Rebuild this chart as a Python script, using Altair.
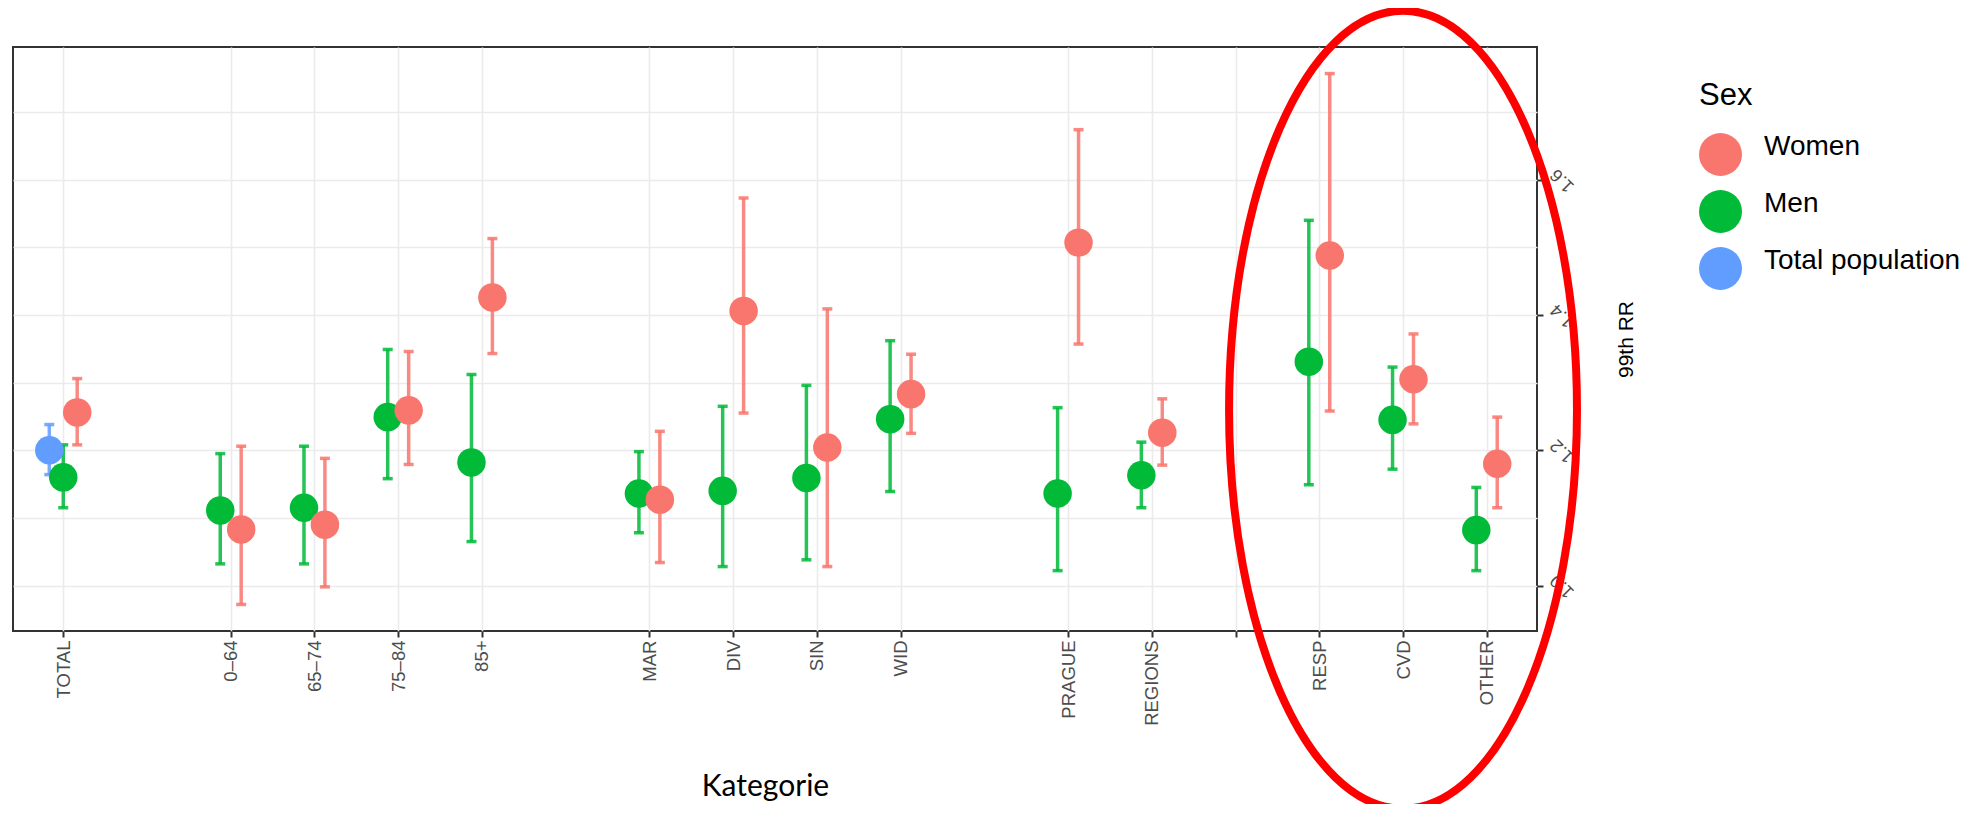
import altair as alt
import pandas as pd

# ---------------- data ----------------
# x slots of the discrete axis (None = empty gap without tick, "" = tick without label)
x_slots = ["TOTAL", None, "0–64", "65–74", "75–84", "85+", None, "MAR", "DIV", "SIN",
           "WID", None, "PRAGUE", "REGIONS", "", "RESP", "CVD", "OTHER"]

categories = ["TOTAL", "0–64", "65–74", "75–84", "85+", "MAR", "DIV", "SIN", "WID",
              "PRAGUE", "REGIONS", "RESP", "CVD", "OTHER"]

women_rr = [1.256, 1.083, 1.090, 1.259, 1.426, 1.127, 1.406, 1.204, 1.283, 1.507, 1.226, 1.488, 1.305, 1.180]
women_lo = [1.208, 0.972, 0.998, 1.179, 1.343, 1.034, 1.255, 1.028, 1.225, 1.357, 1.178, 1.258, 1.239, 1.115]
women_hi = [1.306, 1.206, 1.188, 1.346, 1.513, 1.228, 1.573, 1.409, 1.342, 1.674, 1.276, 1.757, 1.372, 1.249]

men_rr = [1.160, 1.111, 1.115, 1.249, 1.182, 1.136, 1.140, 1.159, 1.246, 1.136, 1.163, 1.331, 1.245, 1.082]
men_lo = [1.115, 1.032, 1.032, 1.158, 1.065, 1.078, 1.028, 1.038, 1.139, 1.022, 1.115, 1.149, 1.172, 1.022]
men_hi = [1.208, 1.195, 1.206, 1.349, 1.312, 1.198, 1.265, 1.296, 1.362, 1.263, 1.212, 1.540, 1.323, 1.145]

total_categories = ["TOTAL"]
total_rr = [1.200]
total_lo = [1.164]
total_hi = [1.238]

y_ticks = [1.0, 1.1, 1.2, 1.3, 1.4, 1.5, 1.6, 1.7]

sex_domain = ["Women", "Men", "Total population"]
sex_colors = ["#F8766D", "#00BA38", "#619CFF"]

# annotation ellipse (drawn over the last three categories)
ellipse_category = ["CVD"]
ellipse_value = [1.26]

# ---------------- build table ----------------
DODGE = 0.5
rows = []
for i, cat in enumerate(categories):
    groups = []
    if cat in total_categories:
        j = total_categories.index(cat)
        groups.append(("Total population", total_rr[j], total_lo[j], total_hi[j]))
    groups.append(("Men", men_rr[i], men_lo[i], men_hi[i]))
    groups.append(("Women", women_rr[i], women_lo[i], women_hi[i]))
    n = len(groups)
    for k, (sex, rr, lo, hi) in enumerate(groups):
        off = DODGE * (k - (n - 1) / 2) / n
        rows.append({"Kategorie": cat, "Sex": sex, "pos": x_slots.index(cat) + off,
                     "rr": rr, "lo": lo, "hi": hi})
df = pd.DataFrame(rows)

ell_df = pd.DataFrame({"pos": [x_slots.index(c) for c in ellipse_category],
                       "rr": ellipse_value})

lo_all = df["lo"].min()
hi_all = df["hi"].max()
pad = 0.05 * (hi_all - lo_all)
y_domain = [lo_all - pad, hi_all + pad]
x_domain = [-0.6, len(x_slots) - 1 + 0.6]

# ---------------- axes ----------------
label_js = "[" + ",".join("'" + (s or "") + "'" for s in x_slots) + "][datum.value]"
tick_values = [i for i, s in enumerate(x_slots) if s is not None]

FONT = "Liberation Sans"

x_axis = alt.Axis(
    values=tick_values, labelExpr=label_js, title="Kategorie",
    orient="bottom", domain=False, grid=True, gridColor="#EBEBEB", gridWidth=1.6,
    ticks=True, tickColor="#333333", tickSize=6, tickWidth=2,
    labelAngle=-90, labelAlign="right", labelBaseline="middle", labelPadding=3,
    labelFont=FONT, labelFontSize=18.5, labelColor="#4D4D4D",
    labelFlush=False, labelOverlap=False,
    titleFont="Lato", titleFontSize=30, titleFontWeight="normal", titleColor="#000000",
    titleX=752, titleY=164, titleAlign="center", titleBaseline="alphabetic",
)

y_axis = alt.Axis(
    values=y_ticks, orient="right", title="99th RR",
    labelExpr="round(datum.value*10) % 2 == 0 ? format(datum.value, '.1f') : ''",
    domain=False, grid=True, gridColor="#EBEBEB", gridWidth=1.6,
    ticks=True, tickColor="#333333", tickSize=6, tickWidth=2,
    tickOpacity={"condition": {"test": "round(datum.value*10) % 2 == 0", "value": 1}, "value": 0},
    labelAngle=225, labelAlign="center", labelBaseline="middle", labelPadding=19,
    labelFont=FONT, labelFontSize=18, labelColor="#4D4D4D",
    labelFlush=False, labelOverlap=False,
    titleFont=FONT, titleFontSize=21, titleFontWeight="normal", titleColor="#000000",
    titleAngle=270, titleX=89, titleY=292, titleAlign="center", titleBaseline="middle",
)

def X():
    return alt.X("pos:Q", axis=x_axis, scale=alt.Scale(domain=x_domain, nice=False, zero=False))

def Y(field):
    return alt.Y(f"{field}:Q", axis=y_axis, scale=alt.Scale(domain=y_domain, nice=False, zero=False))

color_scale = alt.Scale(domain=sex_domain, range=sex_colors)

base = alt.Chart(df)

rules = base.mark_rule(strokeWidth=3.5, opacity=0.85).encode(
    x=X(), y=Y("lo"), y2="hi:Q",
    color=alt.Color("Sex:N", scale=color_scale, legend=None),
)
caps_lo = base.mark_tick(orient="horizontal", size=10, thickness=3.5, opacity=0.85).encode(
    x=X(), y=Y("lo"),
    color=alt.Color("Sex:N", scale=color_scale, legend=None),
)
caps_hi = base.mark_tick(orient="horizontal", size=10, thickness=3.5, opacity=0.85).encode(
    x=X(), y=Y("hi"),
    color=alt.Color("Sex:N", scale=color_scale, legend=None),
)
points = base.mark_circle(size=812, opacity=1).encode(
    x=X(), y=Y("rr"),
    color=alt.Color(
        "Sex:N", scale=color_scale, sort=sex_domain,
        legend=alt.Legend(
            title="Sex", orient="none", legendX=1686, legendY=34,
            symbolType="circle", symbolSize=1849, symbolStrokeWidth=0, symbolOpacity=1,
            labelFont=FONT, labelFontSize=28, labelColor="#000000", labelBaseline="alphabetic",
            labelOffset=22, labelLimit=0, rowPadding=13, padding=0,
            titleFont=FONT, titleFontSize=31, titleFontWeight="normal", titleColor="#000000",
            titlePadding=21,
        ),
    ),
)

ellipse_path = "M 0 -1 A 0.436 1 0 1 1 0 1 A 0.436 1 0 1 1 0 -1 Z"
ellipse = alt.Chart(ell_df).mark_point(
    shape=ellipse_path, size=636804, filled=False, color="#FF0000", strokeWidth=8, opacity=1
).encode(x=X(), y=Y("rr"))

chart = alt.layer(rules, caps_lo, caps_hi, points, ellipse).resolve_scale(
    color="independent"
).properties(
    width=1524, height=584,
    autosize=alt.AutoSizeParams(type="none"),
    padding={"left": 5, "top": 39, "right": 440, "bottom": 173},
    background="white",
).configure_view(stroke="#333333", strokeWidth=2)

chart.save("out.html", embed_options={"renderer": "svg", "actions": False})
